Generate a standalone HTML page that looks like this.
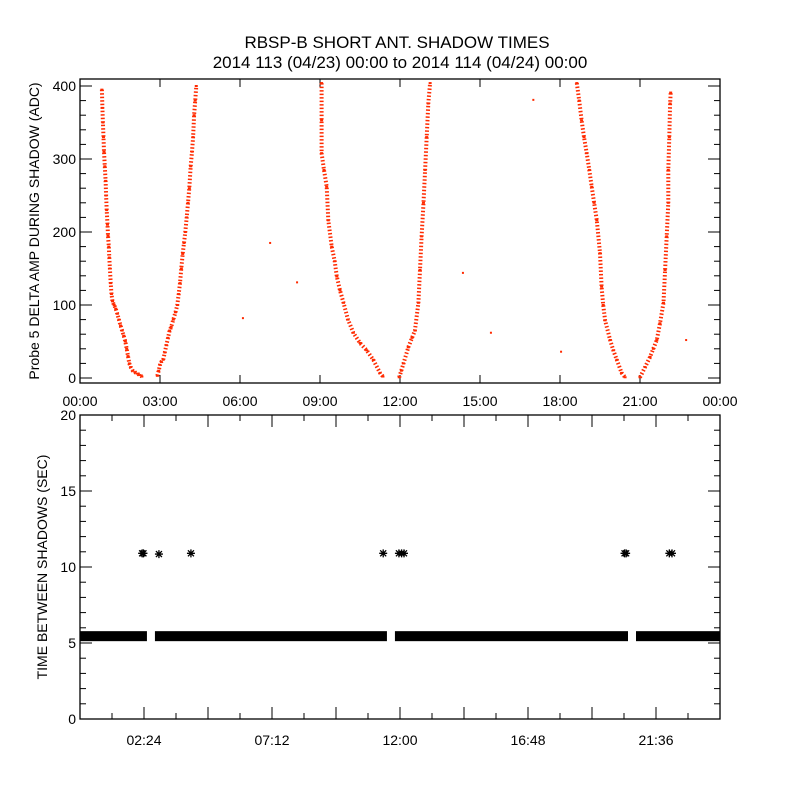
<!DOCTYPE html>
<html><head><meta charset="utf-8"><style>
body{margin:0;background:#fff}
svg text{font-family:"Liberation Sans",sans-serif;fill:#000}
</style></head><body>
<svg id="c" width="800" height="800" viewBox="0 0 800 800" xmlns="http://www.w3.org/2000/svg">
<rect width="800" height="800" fill="#fff"/>
<text x="397" y="48" font-size="17" text-anchor="middle">RBSP-B SHORT ANT. SHADOW TIMES</text>
<text x="400" y="68" font-size="17" text-anchor="middle">2014 113 (04/23) 00:00 to 2014 114 (04/24) 00:00</text>
<g id="topPanel"></g><g id="botPanel"></g>
</svg>
<script>
// ---- top panel data (hours, ADC) ----
const arc1DownH=[0.82,0.84,0.86,0.88,0.90,0.93,0.96,0.98,1.00,1.03,1.05,1.08,1.10,1.12,1.15,1.18,1.22,1.28,1.34,1.40,1.46,1.52,1.58,1.64,1.70,1.75,1.80,1.85,1.90,1.98,2.06,2.15,2.24,2.32];
const arc1DownV=[395,370,350,330,310,290,270,250,230,210,195,180,165,150,130,115,105,100,95,88,80,72,65,58,50,40,30,20,15,10,8,6,4,2];
const arc1UpH=[2.90,2.95,3.00,3.05,3.12,3.18,3.24,3.30,3.36,3.42,3.50,3.58,3.65,3.70,3.75,3.80,3.85,3.90,3.95,4.00,4.05,4.10,4.15,4.20,4.24,4.28,4.32,4.36];
const arc1UpV=[3,10,18,22,25,35,45,55,65,70,80,90,100,115,130,150,170,185,200,220,240,260,290,310,330,360,380,400];
const arc2DownH=[9.06,9.06,9.06,9.15,9.25,9.31,9.44,9.55,9.63,9.75,9.88,10.05,10.25,10.5,10.75,11.0,11.25,11.36];
const arc2DownV=[404,353,308,285,262,216,180,160,139,120,103,80,62,48,38,25,7,2];
const arc2UpH=[11.97,12.05,12.13,12.31,12.45,12.56,12.69,12.75,12.81,12.88,12.94,13.0,13.06,13.13];
const arc2UpV=[1,10,20,42,55,65,103,148,194,240,285,330,376,404];
const arc3DownH=[18.63,18.72,18.81,18.9,19.0,19.1,19.19,19.28,19.38,19.5,19.56,19.62,19.69,19.88,20.0,20.13,20.31,20.44];
const arc3DownV=[404,380,353,330,308,285,262,240,216,171,125,100,79,52,38,25,7,1];
const arc3UpH=[21.0,21.19,21.38,21.5,21.63,21.75,21.88,21.94,22.0,22.06,22.06,22.1,22.13,22.15];
const arc3UpV=[1,15,29,40,52,75,103,148,194,240,285,330,376,391];
const strayH=[7.13,8.14,6.11,14.36,15.41,17.0,18.04,22.73];
const strayV=[185,131,82,144,62,381,36,52];
// ---- bottom panel data (hours, seconds) ----
const bandStart=[0,2.81,11.81,20.85];
const bandEnd=[2.51,11.51,20.55,24];
const bandValue=[5.45,5.45,5.45,5.45];
const outH=[2.33,2.38,2.96,4.16,11.37,11.96,12.06,12.15,20.42,20.48,22.1,22.2];
const outV=[10.9,10.9,10.85,10.9,10.9,10.9,10.9,10.9,10.9,10.9,10.9,10.9];
const topXTicks=["00:00","03:00","06:00","09:00","12:00","15:00","18:00","21:00","00:00"];
const topYTicks=[0,100,200,300,400];
const botXTicks=["02:24","07:12","12:00","16:48","21:36"];
const botYTicks=[0,5,10,15,20];

const NS="http://www.w3.org/2000/svg";
function mk(p,t,a){const e=document.createElementNS(NS,t);for(const k in a)e.setAttribute(k,a[k]);p.appendChild(e);return e;}
const X=h=>80+h*640/24;
const YT=v=>378-0.73*v;
const YB=v=>719-15.2*v;
const topG=document.getElementById('topPanel'),botG=document.getElementById('botPanel');

let f=mk(topG,'rect',{x:80,y:79,width:640,height:304,fill:'none',stroke:'#000','stroke-width':1.3});


topXTicks.forEach((l,i)=>{const x=X(i*3);
 mk(topG,'line',{x1:x,x2:x,y1:383,y2:375,stroke:'#000'});
 mk(topG,'line',{x1:x,x2:x,y1:79,y2:87,stroke:'#000'});
 const t=mk(topG,'text',{x:x,y:406,'font-size':14,'text-anchor':'middle'});t.textContent=l;
 
 });
for(let v=0;v<=400;v+=20){const y=YT(v),L=v%100===0?12:6;
 mk(topG,'line',{x1:80,x2:80+L,y1:y,y2:y,stroke:'#000'});
 mk(topG,'line',{x1:720,x2:720-L,y1:y,y2:y,stroke:'#000'});}
topYTicks.forEach(v=>{const t=mk(topG,'text',{x:76,y:YT(v)+5,'font-size':14,'text-anchor':'end'});t.textContent=v;
 
 });
let yt=mk(topG,'text',{x:0,y:0,'font-size':14,'text-anchor':'middle',transform:'translate(39,231) rotate(-90)'});
yt.textContent='Probe 5 DELTA AMP DURING SHADOW (ADC)';


[[arc1DownH,arc1DownV],[arc1UpH,arc1UpV],[arc2DownH,arc2DownV],[arc2UpH,arc2UpV],[arc3DownH,arc3DownV],[arc3UpH,arc3UpV]].forEach(([H,V],k)=>{
 const pts=H.map((h,i)=>X(h).toFixed(1)+','+YT(V[i]).toFixed(1)).join(' ');
 const pl=mk(topG,'polyline',{points:pts,fill:'none',stroke:'#ff2a00','stroke-width':4,'stroke-dasharray':'1.5 2'});
 
 
 H.forEach((h,i)=>{const r=mk(topG,'rect',{x:X(h)-1.5,y:YT(V[i])-1,width:3,height:2,fill:'#ff2a00'});
  
  });
});
strayH.forEach((h,i)=>{const r=mk(topG,'rect',{x:X(h)-1,y:YT(strayV[i])-1,width:2,height:2,fill:'#ff2a00'});
 
 });

f=mk(botG,'rect',{x:80,y:415,width:640,height:304,fill:'none',stroke:'#000','stroke-width':1.3});


for(let h=1.2;h<24;h+=1.2){const x=X(h),L=(Math.round(h/1.2)%2===0)?12:6;
 mk(botG,'line',{x1:x,x2:x,y1:719,y2:719-L,stroke:'#000'});
 mk(botG,'line',{x1:x,x2:x,y1:415,y2:415+L,stroke:'#000'});}
botXTicks.forEach((l,i)=>{const t=mk(botG,'text',{x:X(2.4+i*4.8),y:745,'font-size':14,'text-anchor':'middle'});t.textContent=l;
 
 });
for(let v=0;v<=20;v+=1){const y=YB(v),L=v%5===0?12:6;
 mk(botG,'line',{x1:80,x2:80+L,y1:y,y2:y,stroke:'#000'});
 mk(botG,'line',{x1:720,x2:720-L,y1:y,y2:y,stroke:'#000'});}
botYTicks.forEach(v=>{const t=mk(botG,'text',{x:76,y:YB(v)+5,'font-size':14,'text-anchor':'end'});t.textContent=v;
 
 });
yt=mk(botG,'text',{x:0,y:0,'font-size':14,'text-anchor':'middle',transform:'translate(47,567) rotate(-90)'});
yt.textContent='TIME BETWEEN SHADOWS (SEC)';


bandStart.forEach((s,i)=>{const y=YB(bandValue[i]);
 const r=mk(botG,'rect',{x:X(s),y:y-5,width:X(bandEnd[i])-X(s),height:10,fill:'#000'});
 
 });
outH.forEach((h,i)=>{const cx=X(h),cy=YB(outV[i]);
 const g=mk(botG,'path',{d:`M${cx-4} ${cy}H${cx+4}M${cx} ${cy-4}V${cy+4}M${cx-3} ${cy-3}L${cx+3} ${cy+3}M${cx-3} ${cy+3}L${cx+3} ${cy-3}`,stroke:'#000','stroke-width':1.3});
 
 });
</script>
</body></html>
